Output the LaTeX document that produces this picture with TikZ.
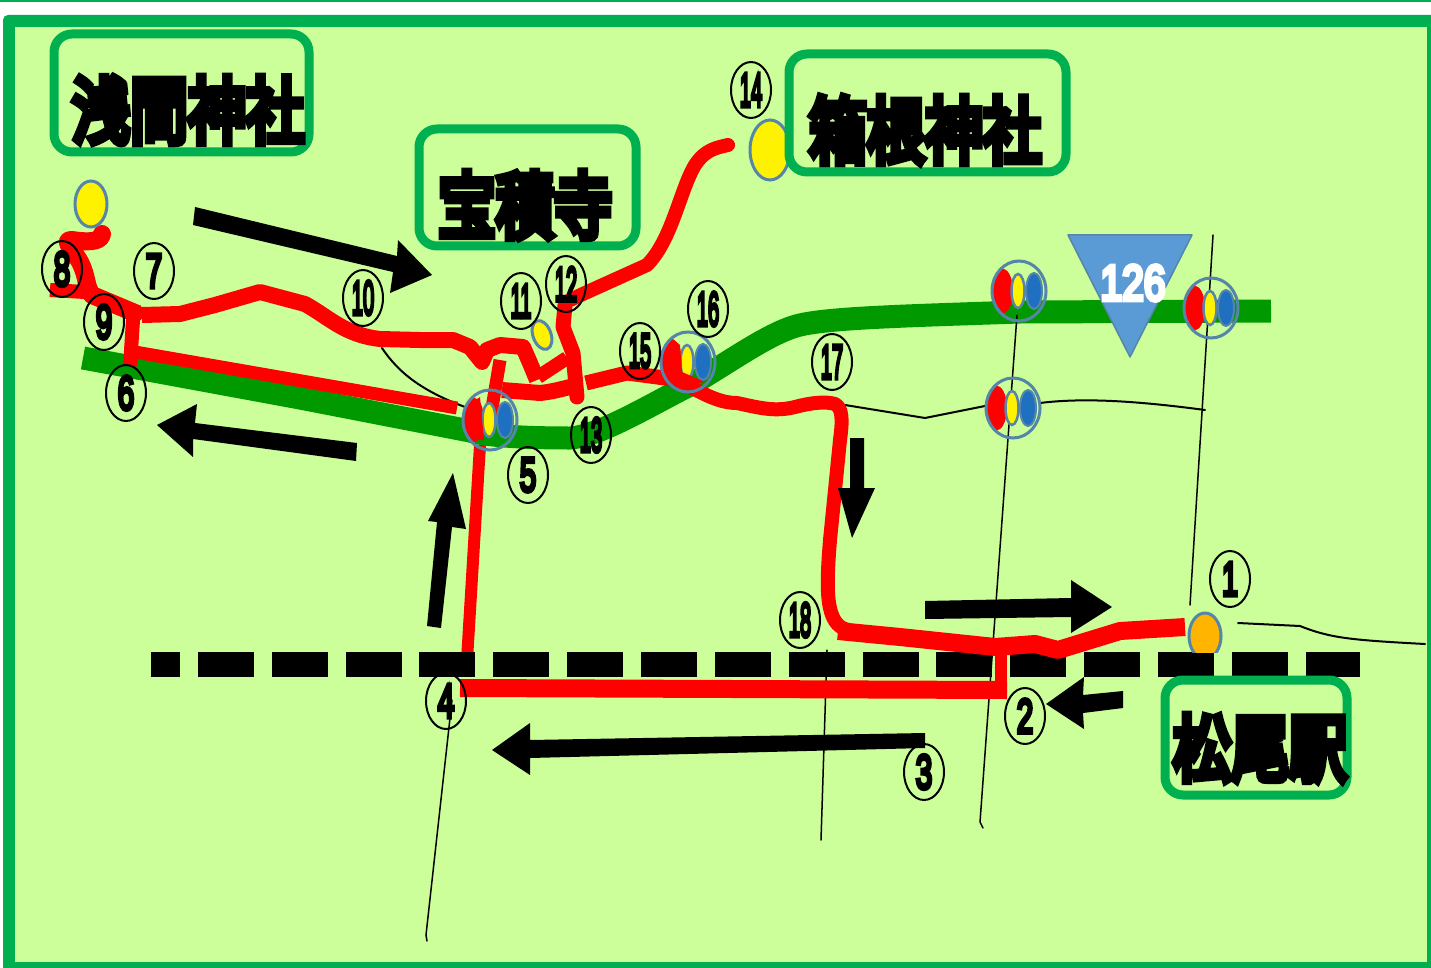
\documentclass[tikz,border=0pt]{standalone}
\usepackage{fontspec}
\usepackage{graphicx}
\usetikzlibrary{shapes.geometric}
\newfontfamily\cjkheavy[BoldFont=*,BoldFeatures={FakeBold=11}]{Noto Sans CJK JP}
\newfontfamily\numfont[BoldFont=*,BoldFeatures={FakeBold=9}]{Liberation Sans}
\definecolor{framegreen}{HTML}{00B050}
\definecolor{paper}{HTML}{CCFF99}
\definecolor{road}{HTML}{009900}
\definecolor{route}{HTML}{FF0000}
\definecolor{ringblue}{HTML}{5585A8}
\definecolor{dotblue}{HTML}{1F70C0}
\definecolor{signblue}{HTML}{5B9BD5}
\definecolor{amber}{HTML}{FFB400}
\tikzset{
  labelbox/.style={draw=framegreen,line width=9,rounded corners=18},
  labeltext/.style={font=\cjkheavy\bfseries\fontsize{58}{58}\selectfont,inner sep=0,text=black},
  numc/.style={draw=black,line width=2,ellipse,minimum width=40,minimum height=56,inner sep=0,font=\numfont\bfseries\fontsize{48}{48}\selectfont},
  redline/.style={draw=route,line width=15,line join=round},
  thinline/.style={draw=black,line width=1.5,line cap=round},
  arrowshape/.style={fill=black,draw=none},
  stopdot/.style={draw=ringblue,line width=3,ellipse,inner sep=0},
}
\newcommand{\numlabel}[4]{\node[numc] (#1) at (#2) {\scalebox{#4}[1]{#3}};}
\newcommand{\interch}[2]{%
  \begin{scope}[shift={(#2)}]
    \fill[route] (-16,0) ellipse [x radius=10,y radius=22];
    \draw[ringblue,line width=2,fill=dotblue] (15,0) ellipse [x radius=8,y radius=18];
    \draw[ringblue,line width=2.5,fill=yellow] (-1,0) ellipse [x radius=6.5,y radius=17];
    \draw[ringblue,line width=3] (0,0) ellipse [x radius=27,y radius=30];
  \end{scope}\coordinate (#1) at (#2);}
\begin{document}
\begin{tikzpicture}[x=1pt,y=-1pt]
\useasboundingbox (0,0) rectangle (1431,968);
\fill[white] (0,0) rectangle (1431,968);
\fill[framegreen] (0,0) rectangle (1431,2);
\fill[framegreen,rounded corners=5] (3,15) rectangle (1436,975);
\fill[paper] (15,27) rectangle (1427,962);
% road
\draw[road,line width=23,line join=round] (83,358) -- (300,398) -- (470,431) .. controls (490,437) and (540,438) .. (570,438) .. controls (600,436) and (650,405) .. (690,385) .. controls (730,362) and (770,332) .. (800,325) .. controls (830,318) and (900,316) .. (1020,312) -- (1271,311);
% dashed rail
\draw[black,line width=25,dash pattern=on 56 off 17.85,dash phase=27] (151,664) -- (1360,664);
% thin lines
\draw[thinline] (1213,235) -- (1190,605);
\draw[thinline] (1017,315) -- (980,822) -- (983,828);
\draw[thinline] (827,650) -- (821,840);
\draw[thinline] (452,700) -- (426,935) -- (427,941);
\draw[thinline,line width=2] (382,348) .. controls (400,375) and (425,392) .. (465,407);
\draw[thinline,line width=2] (845,405) -- (925,418) -- (990,405);
\draw[thinline,line width=2] (1040,403) .. controls (1080,398) and (1130,400) .. (1205,410);
\draw[thinline,line width=2] (1238,623) -- (1300,626) .. controls (1330,638) and (1350,640) .. (1425,644);
% red routes
\draw[redline,line width=18,line cap=round] (102,234) .. controls (101,243) and (85,242) .. (72,240) .. controls (62,240) and (72,248) .. (80,262) .. controls (88,278) and (85,285) .. (92,295) -- (135,313);
\draw[redline,line width=14] (50,290) -- (85,292);
\draw[redline,line width=16] (142,315) -- (180,314) -- (215,305) -- (260,292) -- (305,304) .. controls (330,318) and (345,335) .. (380,339) -- (420,340) -- (453,340) -- (470,347) -- (482,362) -- (487,350) -- (500,345) -- (523,347) -- (530,363) -- (537,380);
\draw[redline,line width=14] (134,305) -- (130,366);
\draw[redline,line width=13] (135,352) -- (457,408);
\draw[redline,line width=13] (500,360) -- (490,420);
\draw[redline,line width=16] (502,390) -- (540,393) .. controls (550,392) and (558,390) .. (570,387);
\draw[redline,line width=14] (538,377) -- (567,358);
\draw[redline,line width=15,line cap=round] (565,305) -- (563,327) -- (573,353) -- (577,397);
\draw[redline,line width=14,line cap=round] (570,300) -- (585,293) -- (647,265) .. controls (672,240) and (680,190) .. (695,165) .. controls (705,150) and (715,148) .. (728,145);
\draw[redline,line width=15] (586,383) -- (627,373) -- (680,380);
\draw[redline,line width=14] (681,382) .. controls (705,395) and (720,403) .. (737,403) .. controls (760,408) and (775,412) .. (795,407) .. controls (810,403) and (825,401) .. (835,404) .. controls (842,408) and (843,418) .. (840,440) -- (830,540) .. controls (826,590) and (825,625) .. (848,630);
\draw[redline,line width=12] (480,445) -- (467,660);
\draw[redline,line width=18] (460,688) -- (1007,690);
\draw[redline,line width=12] (1001,698) -- (1001,650);
\draw[redline,line width=18] (838,631) -- (900,637) -- (995,647) -- (1035,644) -- (1058,650) -- (1120,631) -- (1185,627);
% rail over the route at 4
\fill[black] (419,652) rectangle (475,676.5);
% interchanges
\interch{ia}{490,420}
\interch{ib}{688,362}
\interch{ic}{1019,291}
\interch{id}{1211,308}
\interch{ie}{1013,408}
\fill[route] (468,405) -- (480,397) -- (484,440) -- (476,440) -- cycle;
\fill[route] (665,350) -- (673,339) -- (680,345) -- (682,372) -- (705,382) -- (680,385) -- (667,375) -- cycle;
% stops
\node[stopdot,fill=yellow,minimum width=32,minimum height=46] (stopa) at (91,204) {};
\node[stopdot,fill=yellow,minimum width=40,minimum height=60] (stopb) at (770,150) {};
\node[stopdot,fill=yellow,minimum width=18,minimum height=30,rotate=20] (stopc) at (542,335) {};
\begin{scope}
\clip (1180,600) rectangle (1230,652);
\node[stopdot,fill=amber,minimum width=32,minimum height=46] (stopd) at (1205,636) {};
\end{scope}
% sign
\draw[draw=ringblue,line width=1.5,fill=signblue,line join=round] (1068,235) -- (1192,235) -- (1130,357) -- cycle;
\node[inner sep=0,text=white,font=\numfont\bfseries\fontsize{50}{50}\selectfont] (sign) at (1133,283) {\scalebox{.78}[1]{126}};
% arrows
\fill[arrowshape] (195,207) -- (397,256) -- (398,240) -- (432,275) -- (390,293) -- (393,272) -- (193,225) -- cycle;
\fill[arrowshape] (157,425) -- (197,404) -- (195,423) -- (357,443) -- (356,461) -- (193,439) -- (193,457) -- cycle;
\fill[arrowshape] (453,473) -- (466,529) -- (452,527) -- (441,628) -- (427,626) -- (437,522) -- (428,521) -- cycle;
\fill[arrowshape] (850,438) -- (864,438) -- (864,488) -- (875,488) -- (852,538) -- (838,488) -- (850,488) -- cycle;
\fill[arrowshape] (925,601) -- (1071,598) -- (1071,580) -- (1112,607) -- (1071,633) -- (1071,617) -- (925,619) -- cycle;
\fill[arrowshape] (1046,704) -- (1084,677) -- (1083,695) -- (1123,691) -- (1123,708) -- (1083,713) -- (1084,729) -- cycle;
\fill[arrowshape] (492,750) -- (530,723) -- (530,740) -- (925,733) -- (925,748) -- (530,758) -- (530,775) -- cycle;
% label boxes
\draw[labelbox] (54,34) rectangle (309,152);
\draw[labelbox] (419,129) rectangle (636,246);
\draw[labelbox] (789,54) rectangle (1066,172);
\draw[labelbox] (1165,680) rectangle (1347,795);
\node[labeltext] (asama) at (188,110) {\scalebox{1}[1.25]{浅間神社}};
\node[labeltext] (hoshaku) at (525,205) {\scalebox{1}[1.25]{宝積寺}};
\node[labeltext] (hakone) at (925,130) {\scalebox{1}[1.25]{箱根神社}};
\node[labeltext] (matsuo) at (1260,748) {\scalebox{1}[1.25]{松尾駅}};
% numbers
\numlabel{n1}{1230,579}{1}{.6}
\numlabel{n2}{1025,716}{2}{.62}
\numlabel{n3}{924,772}{3}{.62}
\numlabel{n4}{446,701}{4}{.62}
\numlabel{n5}{528,475}{5}{.62}
\numlabel{n6}{126,393}{6}{.62}
\numlabel{n7}{154,271}{7}{.62}
\numlabel{n8}{62,269}{8}{.62}
\numlabel{n9}{104,322}{9}{.62}
\numlabel{n10}{363,298}{10}{.42}
\numlabel{n11}{521,301}{11}{.42}
\numlabel{n12}{566,284}{12}{.42}
\numlabel{n13}{591,435}{13}{.42}
\numlabel{n14}{751,90}{14}{.42}
\numlabel{n15}{640,351}{15}{.42}
\numlabel{n16}{708,309}{16}{.42}
\numlabel{n17}{832,362}{17}{.42}
\numlabel{n18}{800,620}{18}{.42}
\end{tikzpicture}
\end{document}
